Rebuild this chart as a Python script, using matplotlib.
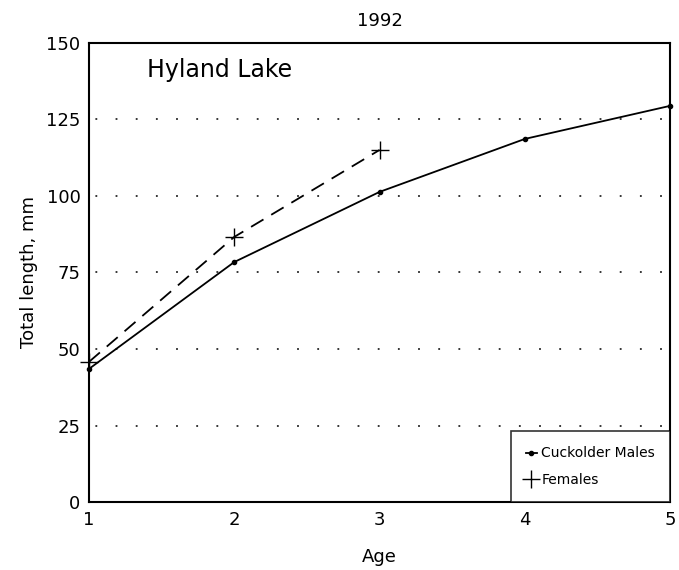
import matplotlib
matplotlib.use("Agg")
import matplotlib.pyplot as plt
from matplotlib.lines import Line2D

# data
ages = [1, 2, 3, 4, 5]
males = [43.5, 78.4, 101.3, 118.6, 129.4]
fem_ages = [1, 2, 3]
females = [45.8, 86.6, 115.0]
yticks = [0, 25, 50, 75, 100, 125, 150]

plt.rcParams['font.family'] = ['DejaVu Sans']

fig = plt.figure(figsize=(6.79, 5.70), dpi=100)
ax = fig.add_axes([0.131, 0.119, 0.856, 0.806])

# dotted grid lines
for yv in yticks[1:-1]:
    ax.axhline(yv, color='black', lw=1.1, ls=(9, (1.2, 12)), zorder=1)

ax.plot(ages, males, '-', color='black', lw=1.3, marker='o', ms=3,
        zorder=3, clip_on=False)
ax.plot(fem_ages, females, color='black', lw=1.3, ls=(0, (8, 5)),
        marker='+', ms=13, mew=1.0, zorder=3, clip_on=False)

ax.set_xlim(1, 5)
ax.set_ylim(0, 150)
ax.set_xticks(ages)
ax.set_yticks(yticks)
ax.tick_params(length=0, labelsize=13, pad=6)
ax.set_xlabel('Age', fontsize=13, labelpad=14)
ax.set_ylabel('Total length, mm', fontsize=13, labelpad=6)
ax.set_title('1992', fontsize=13, pad=12)
for s in ax.spines.values():
    s.set_linewidth(1.5)

ax.text(1.4, 141, 'Hyland Lake', fontsize=17, va='center', ha='left')

handles = [Line2D([], [], color='black', lw=1.3, marker='o', ms=3),
           Line2D([], [], color='none', marker='+', ms=13, mew=1.0, mec='black')]
leg = ax.legend(handles, ['Cuckolder Males', 'Females'], loc='lower right',
                fontsize=10, frameon=True, fancybox=False,
                borderaxespad=0, handlelength=0.8, handletextpad=0.3,
                borderpad=1.1, labelspacing=0.9)
leg.get_frame().set_edgecolor('black')
leg.get_frame().set_linewidth(1.2)

fig.savefig('out.png', dpi=100)
